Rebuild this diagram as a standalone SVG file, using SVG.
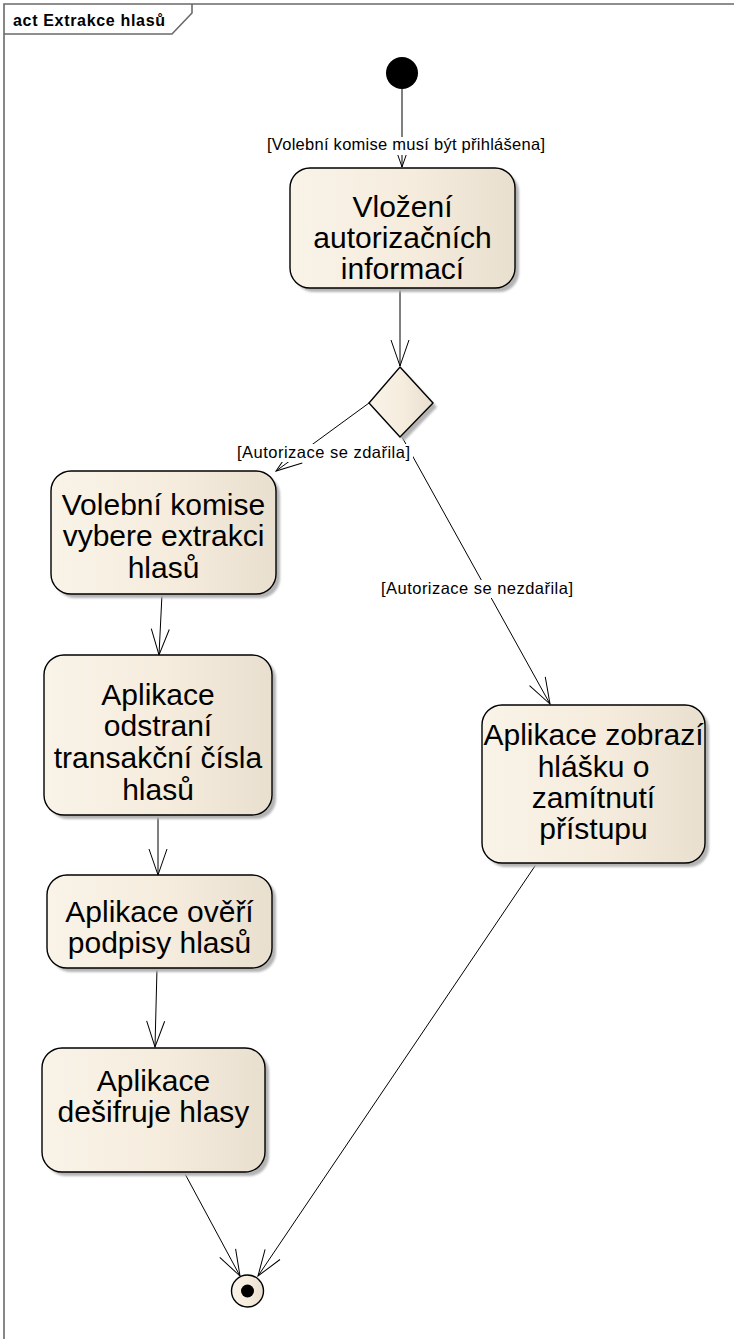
<svg xmlns="http://www.w3.org/2000/svg" width="734" height="1339" viewBox="0 0 734 1339">
  <style>
    .frame { fill: none; stroke: #6a6a6a; stroke-width: 1.6; }
    .title { font-family: "Liberation Sans", Arial, sans-serif; font-size: 16px; font-weight: bold; fill: #000; }
    .node { fill: url(#nodeFill); stroke: #000; stroke-width: 1.4; }
    .shadow { fill: #b4b4b4; filter: url(#soft); }
    .label { font-family: "Liberation Sans", Arial, sans-serif; font-size: 30px; fill: #000; text-anchor: middle; }
    .guard { font-family: "Liberation Sans", Arial, sans-serif; font-size: 16.5px; fill: #000; text-anchor: middle; }
    .guard-bg { fill: #fff; }
    .edge { fill: none; stroke: #000; stroke-width: 1; marker-end: url(#open); }
  </style>
  <defs>
    <linearGradient id="nodeFill" x1="0" y1="0" x2="1" y2="0">
      <stop offset="0" stop-color="#f9f3e8"/>
      <stop offset="0.55" stop-color="#f5ecdd"/>
      <stop offset="1" stop-color="#e8dfcf"/>
    </linearGradient>
    <filter id="soft" x="-10%" y="-10%" width="120%" height="120%">
      <feGaussianBlur stdDeviation="1.2"/>
    </filter>
    <marker id="open" markerUnits="userSpaceOnUse" viewBox="-28 -11 30 22" markerWidth="30" markerHeight="22" refX="0" refY="0" orient="auto" overflow="visible">
      <path d="M-26,-9 L0,0 L-26,9" fill="none" stroke="#000" stroke-width="1"/>
    </marker>
  </defs>

  <rect width="734" height="1339" fill="#fff"/>

  <!-- activity frame with its name tab -->
  <g id="frame">
    <path class="frame" d="M4,1345 L4,4 L740,4"/>
    <path class="frame" d="M4,34 L172,34 L192,13 L192,4"/>
    <text class="title" x="13" y="26" textLength="152" lengthAdjust="spacing">act Extrakce hlasů</text>
  </g>

  <!-- control flows -->
  <g id="connectors">
    <path class="edge" d="M402,89 L402,167"/>
    <path class="edge" d="M400,288 L400,366"/>
    <path class="edge" d="M369,403 L276,471"/>
    <path class="edge" d="M402,437 L550,704"/>
    <path class="edge" d="M162,594 L159,655"/>
    <path class="edge" d="M158,815 L158,875"/>
    <path class="edge" d="M157,968 L155,1047"/>
    <path class="edge" d="M184,1172 L240,1276"/>
    <path class="edge" d="M537,863 L258,1276"/>
  </g>

  <!-- guard conditions -->
  <g id="guards">
    <rect class="guard-bg" x="265" y="137" width="282" height="18"/>
    <text class="guard" x="406" y="150" textLength="278" lengthAdjust="spacing">[Volební komise musí být přihlášena]</text>
    <rect class="guard-bg" x="235" y="444" width="178" height="18"/>
    <text class="guard" x="323.5" y="458" textLength="173" lengthAdjust="spacing">[Autorizace se zdařila]</text>
    <rect class="guard-bg" x="379" y="580" width="196" height="18"/>
    <text class="guard" x="477" y="594" textLength="192" lengthAdjust="spacing">[Autorizace se nezdařila]</text>
  </g>

  <g id="initial">
    <circle cx="402" cy="73" r="16" fill="#000"/>
  </g>

  <g id="vlozeni">
    <rect class="shadow" x="294" y="172" width="225" height="120" rx="20"/>
    <rect class="node" x="290" y="168" width="225" height="120" rx="20"/>
    <text class="label" x="402.5" y="217">Vložení</text>
    <text class="label" x="402.5" y="248">autorizačních</text>
    <text class="label" x="402.5" y="279">informací</text>
  </g>

  <g id="decision">
    <path class="shadow" d="M404,371 L437,407 L404,441 L373,407 Z"/>
    <path class="node" d="M400,367 L433,403 L400,437 L369,403 Z"/>
  </g>

  <g id="vyber">
    <rect class="shadow" x="55" y="475" width="225" height="123" rx="20"/>
    <rect class="node" x="51" y="471" width="225" height="123" rx="20"/>
    <text class="label" x="163.5" y="515">Volební komise</text>
    <text class="label" x="163.5" y="546">vybere extrakci</text>
    <text class="label" x="163.5" y="578">hlasů</text>
  </g>

  <g id="odstraneni">
    <rect class="shadow" x="48" y="659" width="228" height="160" rx="20"/>
    <rect class="node" x="44" y="655" width="228" height="160" rx="20"/>
    <text class="label" x="158" y="705">Aplikace</text>
    <text class="label" x="158" y="736">odstraní</text>
    <text class="label" x="158" y="768">transakční čísla</text>
    <text class="label" x="158" y="800">hlasů</text>
  </g>

  <g id="overeni">
    <rect class="shadow" x="51" y="879" width="225" height="93" rx="20"/>
    <rect class="node" x="47" y="875" width="225" height="93" rx="20"/>
    <text class="label" x="159.5" y="922">Aplikace ověří</text>
    <text class="label" x="159.5" y="953">podpisy hlasů</text>
  </g>

  <g id="desifrovani">
    <rect class="shadow" x="46" y="1052" width="223" height="124" rx="20"/>
    <rect class="node" x="42" y="1048" width="223" height="124" rx="20"/>
    <text class="label" x="153.5" y="1091">Aplikace</text>
    <text class="label" x="153.5" y="1122">dešifruje hlasy</text>
  </g>

  <g id="zamitnuti">
    <rect class="shadow" x="486" y="709" width="223" height="158" rx="20"/>
    <rect class="node" x="482" y="705" width="223" height="158" rx="20"/>
    <text class="label" x="593.5" y="745">Aplikace zobrazí</text>
    <text class="label" x="593.5" y="777">hlášku o</text>
    <text class="label" x="593.5" y="808">zamítnutí</text>
    <text class="label" x="593.5" y="839">přístupu</text>
  </g>

  <g id="final">
    <circle class="node" cx="247.5" cy="1291" r="16"/>
    <circle cx="247.5" cy="1291" r="6.5" fill="#000"/>
  </g>
</svg>
